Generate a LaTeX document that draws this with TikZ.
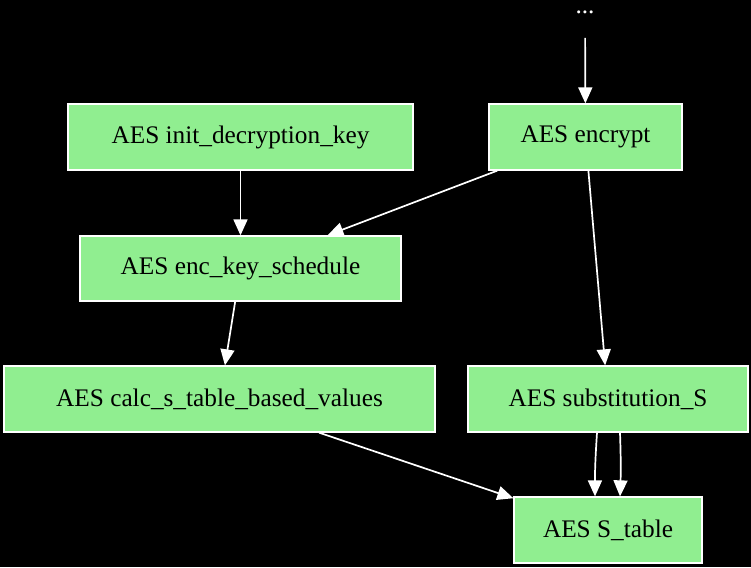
\documentclass[tikz,border=0pt]{standalone}
\usepackage{fontspec}
\setmainfont{Liberation Serif}
\usetikzlibrary{arrows.meta}
\definecolor{nodegreen}{HTML}{90EE90}
\tikzset{
  box/.style={draw=white, line width=1.3pt, fill=nodegreen, text=black, inner sep=0pt,
    font=\fontsize{25.3}{30}\selectfont},
  edge/.style={draw=white, line width=1.7pt, -{Triangle[length=16pt,width=14pt]}},
}
\begin{document}
\begin{tikzpicture}[x=1pt,y=-1pt]
\fill[black] (0,0) rectangle (751,567);
\useasboundingbox (0,0) rectangle (751,567);
\node[text=white, font=\fontsize{25.3}{30}\selectfont, inner sep=0pt] (dots) at (585,12) {...};
\node[box, minimum width=345pt, minimum height=66pt] (init) at (240.5,137) {AES init\_decryption\_key};
\node[box, minimum width=193pt, minimum height=66pt] (enc) at (585.5,137) {AES encrypt};
\node[box, minimum width=321pt, minimum height=65pt] (eks) at (240.5,268.5) {AES enc\_key\_schedule};
\node[box, minimum width=431pt, minimum height=66pt] (calc) at (219.5,399) {AES calc\_s\_table\_based\_values};
\node[box, minimum width=280pt, minimum height=66pt] (sub) at (608,399) {AES substitution\_S};
\node[box, minimum width=188pt, minimum height=66pt] (st) at (608,530) {AES S\_table};
\draw[edge, shorten <=26pt] (dots.center) -- (enc);
\draw[edge] (init) -- (eks);
\draw[edge] (enc) -- (eks);
\draw[edge] (enc) -- (sub);
\draw[edge] (eks) -- (calc);
\draw[edge] (calc) -- (st);
\draw[edge] ([xshift=-11pt]sub.south) to[bend right=2] ([xshift=-13pt]st.north);
\draw[edge] ([xshift=12pt]sub.south) to[bend left=2] ([xshift=12pt]st.north);
\end{tikzpicture}
\end{document}
